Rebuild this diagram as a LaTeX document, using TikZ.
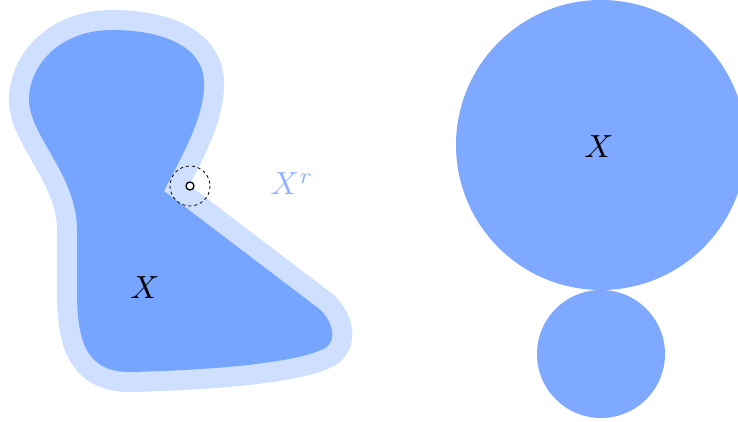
\documentclass[tikz,border=0pt]{standalone}
\definecolor{bandblue}{RGB}{207,223,255}
\definecolor{setblue}{RGB}{118,165,255}
\definecolor{ballblue}{RGB}{127,168,255}
\definecolor{labblue}{RGB}{143,178,255}
\begin{document}
\begin{tikzpicture}[x=1pt,y=-1pt,
  lab/.style={inner sep=0pt,scale=3.2}]
\clip (0,0) rectangle (738,421);
% left set with its r-neighbourhood
\path[preaction={draw=bandblue,line width=40pt,line join=round},fill=setblue]
  (164,191) .. controls (185,150) and (205,115) .. (204,82)
  .. controls (203,45) and (160,30) .. (112,30)
  .. controls (60,30) and (29,65) .. (29,100)
  .. controls (29,135) and (77,175) .. (77,230)
  -- (77,290)
  .. controls (77,340) and (85,372) .. (130,372)
  .. controls (220,370) and (300,362) .. (325,348)
  .. controls (339,340) and (331,318) .. (318,308)
  -- cycle;
\node[lab] (xl) at (145,288) {$X$};
\node[lab,text=labblue] (xr) at (292,184) {$X^r$};
\draw[dashed,line width=0.8pt] (190,186) circle (20);
\node[circle,draw,line width=1.3pt,fill=white,minimum size=8pt,inner sep=0pt] (pt) at (190,186) {};
% right: two tangent balls
\fill[ballblue] (601,145) circle (145);
\fill[ballblue] (601,354) circle (64);
\node[lab] (xb) at (599,147) {$X$};
\end{tikzpicture}
\end{document}
